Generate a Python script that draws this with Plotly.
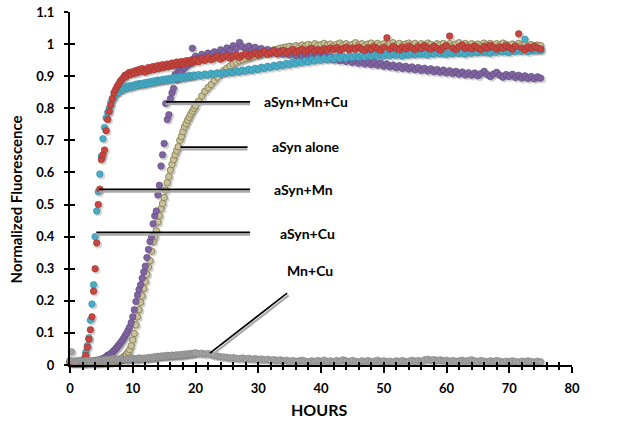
import plotly.graph_objects as go

# Sampling times (hours): every 0.25 h up to 19.75 h, then every 0.5 h to 75 h
hours = [i * 0.25 for i in range(80)] + [20 + i * 0.5 for i in range(111)]

asyn_cu = [
    0.012, 0.010, 0.008, 0.011, 0.009, 0.012, 0.010, 0.013, 0.015, 0.020,
    0.040, 0.060, 0.085, 0.140, 0.190, 0.250, 0.400, 0.480, 0.540, 0.595,
    0.650, 0.705, 0.740, 0.770, 0.787, 0.800, 0.818, 0.830, 0.838, 0.845,
    0.852, 0.850, 0.858, 0.862, 0.858, 0.865, 0.868, 0.863, 0.870, 0.866,
    0.872, 0.869, 0.875, 0.871, 0.877, 0.873, 0.878, 0.874, 0.880, 0.876,
    0.882, 0.878, 0.884, 0.880, 0.886, 0.882, 0.888, 0.884, 0.887, 0.890,
    0.886, 0.891, 0.888, 0.893, 0.889, 0.894, 0.890, 0.896, 0.892, 0.895,
    0.898, 0.893, 0.899, 0.895, 0.900, 0.897, 0.902, 0.898, 0.901, 0.904,
    0.900, 0.905, 0.901, 0.907, 0.903, 0.909, 0.905, 0.911, 0.907, 0.912,
    0.909, 0.914, 0.911, 0.917, 0.913, 0.919, 0.916, 0.922, 0.918, 0.925,
    0.921, 0.928, 0.924, 0.931, 0.927, 0.934, 0.930, 0.937, 0.933, 0.940,
    0.936, 0.944, 0.939, 0.946, 0.942, 0.949, 0.944, 0.952, 0.947, 0.954,
    0.950, 0.956, 0.952, 0.958, 0.953, 0.960, 0.955, 0.961, 0.956, 0.962,
    0.958, 0.963, 0.959, 0.965, 0.960, 0.966, 0.961, 0.967, 0.962, 0.968,
    0.963, 0.969, 0.964, 0.970, 0.965, 0.968, 0.963, 0.970, 0.966, 0.971,
    0.967, 0.972, 0.968, 0.971, 0.966, 0.973, 0.969, 0.974, 0.970, 0.972,
    0.968, 0.974, 0.970, 0.975, 0.971, 0.973, 0.969, 0.976, 0.972, 0.977,
    0.973, 0.978, 0.974, 0.976, 0.972, 0.979, 0.975, 0.980, 0.976, 0.978,
    0.974, 0.981, 0.977, 0.982, 0.978, 1.015, 0.976, 0.983, 0.979, 0.981,
    0.980,
]

asyn_mn = [
    0.008, 0.010, 0.007, 0.009, 0.011, 0.008, 0.010, 0.009, 0.012, 0.014,
    0.030, 0.055, 0.080, 0.110, 0.150, 0.230, 0.300, 0.380, 0.500, 0.548,
    0.640, 0.655, 0.670, 0.730, 0.765, 0.790, 0.810, 0.830, 0.848, 0.858,
    0.868, 0.875, 0.884, 0.890, 0.895, 0.903, 0.900, 0.908, 0.912, 0.906,
    0.914, 0.909, 0.918, 0.912, 0.921, 0.915, 0.924, 0.917, 0.913, 0.922,
    0.927, 0.918, 0.925, 0.930, 0.921, 0.928, 0.933, 0.924, 0.931, 0.936,
    0.927, 0.934, 0.938, 0.930, 0.936, 0.941, 0.933, 0.939, 0.944, 0.936,
    0.942, 0.946, 0.938, 0.944, 0.948, 0.940, 0.946, 0.950, 0.943, 0.948,
    0.952, 0.945, 0.955, 0.949, 0.958, 0.951, 0.956, 0.962, 0.953, 0.959,
    0.964, 0.956, 0.962, 0.967, 0.958, 0.965, 0.970, 0.961, 0.968, 0.972,
    0.966, 0.972, 0.977, 0.968, 0.974, 0.979, 0.970, 0.976, 0.981, 0.972,
    0.978, 0.983, 0.974, 0.980, 0.985, 0.976, 0.982, 0.987, 0.978, 0.983,
    0.979, 0.986, 0.981, 0.988, 0.982, 0.989, 0.980, 0.986, 0.990, 0.982,
    0.988, 0.984, 0.991, 0.985, 0.980, 0.989, 0.983, 0.992, 0.986, 0.981,
    0.990, 1.020, 0.985, 0.993, 0.987, 0.982, 0.991, 0.985, 0.994, 0.988,
    0.983, 0.992, 0.986, 0.995, 0.989, 0.984, 0.993, 0.987, 0.981, 0.990,
    0.995, 1.025, 0.988, 0.983, 0.992, 0.997, 0.986, 0.991, 0.985, 0.994,
    0.988, 0.983, 0.993, 0.987, 0.996, 0.990, 0.984, 0.992, 0.987, 0.995,
    0.989, 0.984, 0.993, 1.032, 0.988, 0.982, 0.991, 0.986, 0.994, 0.988,
    0.985,
]

asyn_mn_cu = [
    0.012, 0.008, 0.010, 0.007, 0.009, 0.008, 0.010, 0.009, 0.008, 0.010,
    0.009, 0.011, 0.010, 0.012, 0.011, 0.013, 0.012, 0.015, 0.014, 0.017,
    0.018, 0.020, 0.022, 0.026, 0.030, 0.032, 0.036, 0.040, 0.045, 0.050,
    0.056, 0.062, 0.068, 0.075, 0.082, 0.090, 0.098, 0.108, 0.118, 0.132,
    0.150, 0.172, 0.198, 0.218, 0.235, 0.250, 0.270, 0.290, 0.308, 0.335,
    0.360, 0.385, 0.400, 0.440, 0.465, 0.480, 0.530, 0.560, 0.620, 0.655,
    0.690, 0.815, 0.765, 0.780, 0.830, 0.848, 0.862, 0.905, 0.890, 0.915,
    0.922, 0.912, 0.930, 0.925, 0.940, 0.935, 0.948, 0.942, 0.987, 0.955,
    0.962, 0.955, 0.968, 0.960, 0.972, 0.966, 0.976, 0.970, 0.982, 0.975,
    0.988, 0.980, 0.995, 0.986, 1.005, 0.992, 0.985, 0.994, 0.980, 0.990,
    0.978, 0.986, 0.975, 0.983, 0.972, 0.980, 0.970, 0.978, 0.968, 0.976,
    0.966, 0.974, 0.964, 0.972, 0.962, 0.970, 0.960, 0.968, 0.958, 0.966,
    0.956, 0.964, 0.954, 0.961, 0.951, 0.958, 0.948, 0.955, 0.946, 0.953,
    0.943, 0.950, 0.940, 0.947, 0.938, 0.945, 0.936, 0.943, 0.934, 0.941,
    0.931, 0.938, 0.929, 0.935, 0.926, 0.933, 0.924, 0.931, 0.922, 0.929,
    0.920, 0.927, 0.918, 0.925, 0.916, 0.923, 0.914, 0.921, 0.912, 0.919,
    0.910, 0.917, 0.908, 0.915, 0.906, 0.913, 0.904, 0.911, 0.903, 0.910,
    0.901, 0.908, 0.915, 0.905, 0.899, 0.907, 0.912, 0.903, 0.897, 0.905,
    0.899, 0.906, 0.896, 0.903, 0.894, 0.901, 0.893, 0.899, 0.892, 0.898,
    0.894,
]

asyn_alone = [
    0.005, 0.004, 0.006, 0.005, 0.004, 0.006, 0.005, 0.004, 0.006, 0.005,
    0.005, 0.006, 0.004, 0.006, 0.005, 0.007, 0.005, 0.006, 0.007, 0.006,
    0.007, 0.006, 0.008, 0.007, 0.008, 0.009, 0.008, 0.010, 0.011, 0.012,
    0.013, 0.015, 0.018, 0.021, 0.025, 0.029, 0.034, 0.040, 0.048, 0.060,
    0.078, 0.098, 0.125, 0.150, 0.172, 0.195, 0.215, 0.238, 0.260, 0.282,
    0.305, 0.325, 0.355, 0.385, 0.400, 0.418, 0.445, 0.465, 0.487, 0.503,
    0.522, 0.545, 0.568, 0.587, 0.607, 0.625, 0.640, 0.655, 0.668, 0.680,
    0.700, 0.712, 0.727, 0.742, 0.752, 0.763, 0.772, 0.782, 0.791, 0.800,
    0.808, 0.822, 0.838, 0.853, 0.864, 0.874, 0.886, 0.897, 0.908, 0.918,
    0.925, 0.931, 0.938, 0.943, 0.948, 0.951, 0.955, 0.958, 0.961, 0.964,
    0.966, 0.970, 0.972, 0.976, 0.978, 0.982, 0.984, 0.987, 0.989, 0.991,
    0.993, 0.990, 0.995, 0.992, 0.997, 0.994, 0.999, 0.995, 1.001, 0.996,
    0.998, 1.002, 0.996, 1.000, 0.994, 0.999, 1.003, 0.997, 1.001, 0.995,
    0.999, 1.004, 0.997, 1.001, 0.995, 1.000, 1.003, 0.996, 1.002, 0.998,
    1.001, 0.995, 1.000, 1.004, 0.997, 1.002, 0.996, 1.000, 1.003, 0.998,
    1.002, 0.996, 1.001, 0.997, 1.003, 0.999, 0.995, 1.001, 0.998, 1.002,
    0.997, 1.001, 0.995, 1.000, 1.004, 0.998, 1.002, 0.996, 1.001, 0.997,
    1.000, 0.995, 1.003, 0.998, 1.002, 0.996, 1.001, 0.997, 1.003, 0.999,
    0.995, 1.000, 0.997, 1.002, 0.996, 0.999, 0.994, 0.998, 0.993, 0.997,
    0.995,
]

mn_cu = [
    0.015, 0.041, 0.012, 0.010, 0.013, 0.011, 0.014, 0.012, 0.010, 0.013,
    0.011, 0.014, 0.012, 0.010, 0.013, 0.011, 0.014, 0.012, 0.015, 0.013,
    0.016, 0.014, 0.017, 0.015, 0.018, 0.016, 0.019, 0.017, 0.020, 0.018,
    0.016, 0.019, 0.017, 0.020, 0.018, 0.016, 0.019, 0.017, 0.020, 0.018,
    0.021, 0.019, 0.017, 0.020, 0.022, 0.019, 0.021, 0.018, 0.022, 0.020,
    0.023, 0.021, 0.024, 0.022, 0.026, 0.023, 0.027, 0.025, 0.028, 0.026,
    0.029, 0.026, 0.030, 0.027, 0.029, 0.031, 0.028, 0.030, 0.032, 0.029,
    0.031, 0.033, 0.030, 0.034, 0.032, 0.035, 0.033, 0.036, 0.034, 0.037,
    0.038, 0.035, 0.037, 0.034, 0.036, 0.032, 0.030, 0.028, 0.026, 0.025,
    0.024, 0.022, 0.023, 0.021, 0.020, 0.022, 0.019, 0.021, 0.018, 0.020,
    0.017, 0.019, 0.016, 0.018, 0.015, 0.017, 0.014, 0.016, 0.013, 0.015,
    0.012, 0.014, 0.011, 0.013, 0.015, 0.012, 0.010, 0.013, 0.011, 0.014,
    0.012, 0.015, 0.011, 0.013, 0.010, 0.014, 0.012, 0.016, 0.013, 0.011,
    0.014, 0.012, 0.009, 0.013, 0.011, 0.014, 0.010, 0.012, 0.015, 0.011,
    0.013, 0.010, 0.012, 0.009, 0.013, 0.011, 0.014, 0.010, 0.012, 0.015,
    0.012, 0.014, 0.011, 0.016, 0.018, 0.015, 0.017, 0.014, 0.016, 0.013,
    0.015, 0.012, 0.014, 0.011, 0.013, 0.015, 0.012, 0.014, 0.016, 0.013,
    0.011, 0.014, 0.012, 0.010, 0.013, 0.011, 0.014, 0.012, 0.009, 0.012,
    0.010, 0.013, 0.011, 0.009, 0.012, 0.010, 0.013, 0.011, 0.009, 0.012,
    0.010,
]

for s in (asyn_cu, asyn_mn, asyn_mn_cu, asyn_alone, mn_cu):
    assert len(s) == len(hours), len(s)

# Annotation labels and their leader lines (data units)
label_text = ["aSyn+Mn+Cu", "aSyn alone", "aSyn+Mn", "aSyn+Cu", "Mn+Cu"]
label_x = [30.6, 31.9, 32.2, 33.1, 34.3]
label_y = [0.82, 0.682, 0.548, 0.411, 0.293]
leader_x0 = [15.3, 17.6, 4.6, 4.2, 22.3]
leader_y0 = [0.82, 0.679, 0.547, 0.413, 0.037]
leader_x1 = [28.7, 28.3, 28.7, 28.7, 34.6]
leader_y1 = [0.82, 0.679, 0.547, 0.413, 0.224]

x_ticks = [0, 10, 20, 30, 40, 50, 60, 70, 80]
y_ticks = [0, 0.1, 0.2, 0.3, 0.4, 0.5, 0.6, 0.7, 0.8, 0.9, 1, 1.1]
y_tick_text = ["0", "0.1", "0.2", "0.3", "0.4", "0.5", "0.6", "0.7", "0.8", "0.9", "1", "1.1"]

# ---- styling ----
FONT = "Lato"
series = [
    ("aSyn alone", asyn_alone, "#C9C29C", "#8F8755", 1.0),
    ("aSyn+Mn+Cu", asyn_mn_cu, "#8064A2", "#5E4A7A", 0.6),
    ("aSyn+Cu", asyn_cu, "#4BACC6", "#2F8BA4", 0.6),
    ("aSyn+Mn", asyn_mn, "#C8463F", "#9A302B", 0.6),
    ("Mn+Cu", mn_cu, "#A3A3A3", "#808080", 0.6),
]

W, H = 624, 426
ml, mr, mt, mb = 70, 52, 12, 61
pw, ph = W - ml - mr, H - mt - mb
X_RANGE = [0, 80]
Y_RANGE = [0, 1.1]
px_x = (X_RANGE[1] - X_RANGE[0]) / pw
px_y = (Y_RANGE[1] - Y_RANGE[0]) / ph
sdx, sdy = 1.6 * px_x, 1.6 * px_y

fig = go.Figure()

# drop shadows: same data on an invisible base axis pair shifted by ~1.6 px
for name, vals, fc, lc, lw in series:
    fig.add_trace(go.Scatter(
        x=hours, y=vals, mode="markers", xaxis="x", yaxis="y",
        marker=dict(size=7.5, color="rgba(60,60,60,0.22)", line=dict(width=0)),
        hoverinfo="skip", showlegend=False, cliponaxis=False))

for name, vals, fc, lc, lw in series:
    fig.add_trace(go.Scatter(
        x=hours, y=vals, mode="markers", name=name, xaxis="x2", yaxis="y2",
        marker=dict(size=6.5, color=fc, line=dict(width=lw, color=lc)),
        showlegend=False, cliponaxis=False))

# dummy trace for the inside-tick axis pair
fig.add_trace(go.Scatter(x=[None], y=[None], xaxis="x3", yaxis="y3",
                         showlegend=False, hoverinfo="skip"))

shapes = []
for i in range(len(label_text)):
    diag = leader_y0[i] != leader_y1[i]
    ox = 0.25 if diag else 0.0
    shapes.append(dict(type="line", xref="x2", yref="y2",
                       x0=leader_x0[i] + ox, x1=leader_x1[i] + ox,
                       y0=leader_y0[i] - 2.2 * px_y, y1=leader_y1[i] - 2.2 * px_y,
                       line=dict(color="#A8A8A8", width=2.2)))
    shapes.append(dict(type="line", xref="x2", yref="y2",
                       x0=leader_x0[i], x1=leader_x1[i],
                       y0=leader_y0[i], y1=leader_y1[i],
                       line=dict(color="black", width=1.7)))

annotations = []
for i, t in enumerate(label_text):
    annotations.append(dict(x=label_x[i], y=label_y[i], xref="x2", yref="y2",
                            text=t, showarrow=False, xanchor="left", yanchor="middle",
                            font=dict(family=FONT, size=14, color="black", weight="bold")))
annotations.append(dict(x=0.497, y=-0.127, xref="paper", yref="paper", text="HOURS",
                        showarrow=False, xanchor="center", yanchor="middle",
                        font=dict(family=FONT, size=16, color="black", weight="bold")))
annotations.append(dict(x=-0.107, y=0.47, xref="paper", yref="paper",
                        text="Normalized Fluorescence", textangle=-90,
                        showarrow=False, xanchor="center", yanchor="middle",
                        font=dict(family=FONT, size=15, color="black", weight="bold")))

tickfont = dict(family=FONT, size=13, color="black", weight="bold")

fig.update_layout(
    width=W, height=H, autosize=False,
    margin=dict(l=ml, r=mr, t=mt, b=mb, pad=0, autoexpand=False),
    paper_bgcolor="white", plot_bgcolor="white",
    showlegend=False,
    shapes=shapes, annotations=annotations,
    xaxis=dict(range=[X_RANGE[0] - sdx, X_RANGE[1] - sdx], visible=False, fixedrange=True),
    yaxis=dict(range=[Y_RANGE[0] + sdy, Y_RANGE[1] + sdy], visible=False, fixedrange=True),
    xaxis2=dict(range=X_RANGE, overlaying="x", anchor="y2", showgrid=False, zeroline=False,
                showline=True, linecolor="black", linewidth=2, automargin=False,
                tickmode="array", tickvals=x_ticks, ticktext=[str(v) for v in x_ticks],
                ticks="outside", ticklen=6, tickwidth=1.5, tickcolor="black",
                minor=dict(dtick=2, ticks="outside", ticklen=3, tickwidth=1.5,
                           tickcolor="black", showgrid=False),
                tickfont=tickfont, ticklabelstandoff=4),
    yaxis2=dict(range=Y_RANGE, overlaying="y", anchor="x2", showgrid=False, zeroline=False,
                showline=True, linecolor="black", linewidth=2, automargin=False,
                tickmode="array", tickvals=y_ticks, ticktext=y_tick_text,
                ticks="outside", ticklen=4, tickwidth=1.5, tickcolor="black",
                tickfont=tickfont, ticklabelstandoff=7),
    xaxis3=dict(range=X_RANGE, overlaying="x", anchor="y3", showgrid=False, zeroline=False,
                showline=False, showticklabels=False, tickmode="linear", tick0=0, dtick=2,
                ticks="inside", ticklen=3, tickwidth=1.5, tickcolor="black", automargin=False),
    yaxis3=dict(range=Y_RANGE, overlaying="y", anchor="x3", showgrid=False, zeroline=False,
                showline=False, showticklabels=False, tickmode="array", tickvals=y_ticks,
                ticks="inside", ticklen=5, tickwidth=1.5, tickcolor="black", automargin=False),
)

fig.write_html(
    "out.html",
    config={"displayModeBar": False},
    post_script="document.body.style.margin='0';document.body.style.overflow='hidden';",
)
